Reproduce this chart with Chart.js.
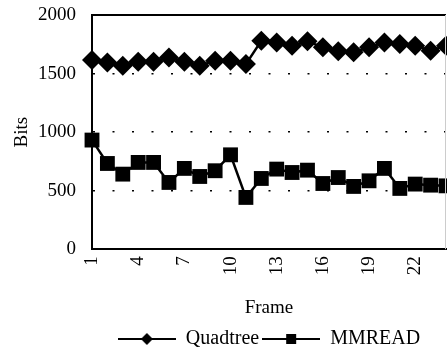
<!DOCTYPE html>
<html>
<head>
<meta charset="utf-8">
<script src="https://cdn.jsdelivr.net/npm/chart.js@4"></script>
<style>
  html, body { margin: 0; padding: 0; background: #fff; }
  #wrap { width: 447px; height: 350px; }
</style>
</head>
<body>
<div id="wrap"><canvas id="frameChart"></canvas></div>
<script>
const frames = ["1","2","3","4","5","6","7","8","9","10","11","12","13","14","15","16","17","18","19","20","21","22","23","24"];
const quadtreeBits = [1615, 1595, 1567, 1601, 1600, 1638, 1600, 1567, 1610, 1610, 1581, 1780, 1766, 1738, 1775, 1724, 1690, 1681, 1724, 1766, 1752, 1738, 1695, 1738];
const mmreadBits = [932, 732, 641, 741, 741, 570, 690, 621, 670, 806, 442, 604, 684, 655, 675, 561, 612, 536, 584, 690, 519, 556, 547, 541];
const yTicks = [0, 500, 1000, 1500, 2000];

const FONT = "'Liberation Serif', 'Times New Roman', serif";

// legend symbol: short line with the marker in the middle
function legendSymbol(shape) {
    const c = document.createElement("canvas");
    c.width = 58; c.height = 14;
    const g = c.getContext("2d");
    g.strokeStyle = "#000"; g.fillStyle = "#000"; g.lineWidth = 2;
    g.beginPath(); g.moveTo(0, 7); g.lineTo(58, 7); g.stroke();
    g.beginPath();
    if (shape === "diamond") {
        g.moveTo(29, 1); g.lineTo(35, 7); g.lineTo(29, 13); g.lineTo(23, 7);
    } else {
        g.rect(24, 2, 10, 10);
    }
    g.closePath(); g.fill();
    return c;
}

// top / right frame of the plot area
const plotFrame = {
    id: "plotFrame",
    afterDraw(chart) {
        const a = chart.chartArea, ctx = chart.ctx;
        ctx.save();
        ctx.strokeStyle = "#000"; ctx.lineWidth = 2;
        ctx.beginPath(); ctx.moveTo(a.left, a.top); ctx.lineTo(a.right, a.top); ctx.stroke();
        ctx.strokeStyle = "#ccc"; ctx.lineWidth = 1;
        ctx.beginPath(); ctx.moveTo(a.right - 0.5, a.top); ctx.lineTo(a.right - 0.5, a.bottom); ctx.stroke();
        ctx.restore();
    }
};

new Chart(document.getElementById("frameChart"), {
    type: "line",
    data: {
        labels: frames,
        datasets: [{
            label: "Quadtree",
            data: quadtreeBits,
            borderColor: "#000",
            backgroundColor: "#000",
            borderWidth: 2.5,
            pointStyle: "rectRot",
            pointRadius: 10,
            pointBorderWidth: 0,
            tension: 0,
            clip: false
        }, {
            label: "MMREAD",
            data: mmreadBits,
            borderColor: "#000",
            backgroundColor: "#000",
            borderWidth: 2.5,
            pointStyle: "rect",
            pointRadius: 10.5,
            pointBorderWidth: 0,
            tension: 0,
            clip: false
        }]
    },
    options: {
        responsive: true,
        maintainAspectRatio: false,
        animation: false,
        layout: { autoPadding: false, padding: { top: 15, left: 11, right: 1, bottom: -9 } },
        plugins: {
            legend: {
                position: "bottom",
                fullSize: false,
                labels: {
                    color: "#000",
                    font: { family: FONT, size: 20 },
                    usePointStyle: true,
                    pointStyleWidth: 58,
                    padding: 3,
                    generateLabels(chart) {
                        return chart.data.datasets.map((ds, i) => ({
                            text: ds.label,
                            pointStyle: legendSymbol(i === 0 ? "diamond" : "square"),
                            fillStyle: "#000",
                            strokeStyle: "#000",
                            lineWidth: 0,
                            datasetIndex: i,
                            fontColor: "#000"
                        }));
                    }
                }
            },
            tooltip: { enabled: false }
        },
        scales: {
            x: {
                offset: false,
                afterFit(scale) { scale.paddingRight = 0; scale.paddingLeft = 0; },
                grid: { display: false, drawTicks: false },
                border: { color: "#000", width: 2 },
                ticks: {
                    autoSkip: false,
                    minRotation: 90,
                    maxRotation: 90,
                    padding: 7,
                    color: "#000",
                    font: { family: FONT, size: 19 },
                    callback: function (val, index) {
                        return index % 3 === 0 ? this.getLabelForValue(val) : "";
                    }
                },
                title: {
                    display: true,
                    text: "Frame",
                    color: "#000",
                    font: { family: FONT, size: 19 },
                    padding: { top: 14, bottom: 7 }
                }
            },
            y: {
                min: yTicks[0],
                max: yTicks[yTicks.length - 1],
                afterBuildTicks(scale) { scale.ticks = yTicks.map(v => ({ value: v })); },
                afterFit(scale) { scale.paddingTop = 0; scale.paddingBottom = 0; scale.width = 81; },
                grid: {
                    drawTicks: false,
                    color: ctx => (ctx.tick && (ctx.tick.value === 0 || ctx.tick.value === 2000)) ? "rgba(0,0,0,0)" : "#000",
                    lineWidth: 1.5
                },
                border: { color: "#000", width: 2, dash: [2, 17.5] },
                ticks: {
                    padding: 16,
                    color: "#000",
                    font: { family: FONT, size: 19 },
                    callback: v => String(v)
                },
                title: {
                    display: true,
                    text: "Bits",
                    color: "#000",
                    font: { family: FONT, size: 19 },
                    padding: { top: 0, bottom: 4 }
                }
            }
        }
    },
    plugins: [plotFrame]
});
</script>
</body>
</html>
